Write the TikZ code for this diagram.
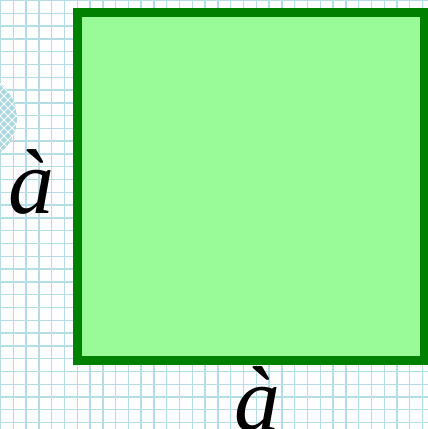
\documentclass[tikz,border=0pt]{standalone}
\usepackage{fontspec}
\setmainfont{Liberation Serif}
\definecolor{gridblue}{RGB}{180,222,229}
\definecolor{circblue}{RGB}{170,216,224}
\definecolor{sqfill}{RGB}{152,251,152}
\definecolor{sqdraw}{RGB}{0,128,0}
\tikzset{
  gridline/.style={draw=gridblue, line width=1.4pt},
  square/.style={draw=sqdraw, fill=sqfill, line width=8.5pt, line join=miter},
  sidelabel/.style={inner sep=0pt, font=\fontsize{92}{92}\selectfont\itshape, text=black}
}
\begin{document}
\begin{tikzpicture}[x=1pt,y=-1pt]
\useasboundingbox (0,0) rectangle (428,429);
\fill[white] (0,0) rectangle (428,429);
% grid
\foreach \i in {0,...,33} {
  \draw[gridline] (\i*12.79+0.5,0) -- (\i*12.79+0.5,429);
  \draw[gridline] (0,\i*12.79+0.5) -- (428,\i*12.79+0.5);
}
% hatched circle at the left edge
\begin{scope}
  \clip (-27.5,118) circle (44.5);
  \fill[circblue] (-27.5,118) circle (44.5);
  \foreach \k in {-20,...,20} {
    \draw[white, line width=0.9pt] (-80+\k*8,60) -- (-80+\k*8+120,180);
    \draw[white, line width=0.9pt] (-80+\k*8,180) -- (-80+\k*8+120,60);
  }
\end{scope}
% square
\draw[square] (77.5,12.5) rectangle (424,360.5);
% labels
\node[sidelabel, anchor=base west] (left) at (8,213) {à};
\node[sidelabel, anchor=base west] (bottom) at (234,430) {à};
\end{tikzpicture}
\end{document}
